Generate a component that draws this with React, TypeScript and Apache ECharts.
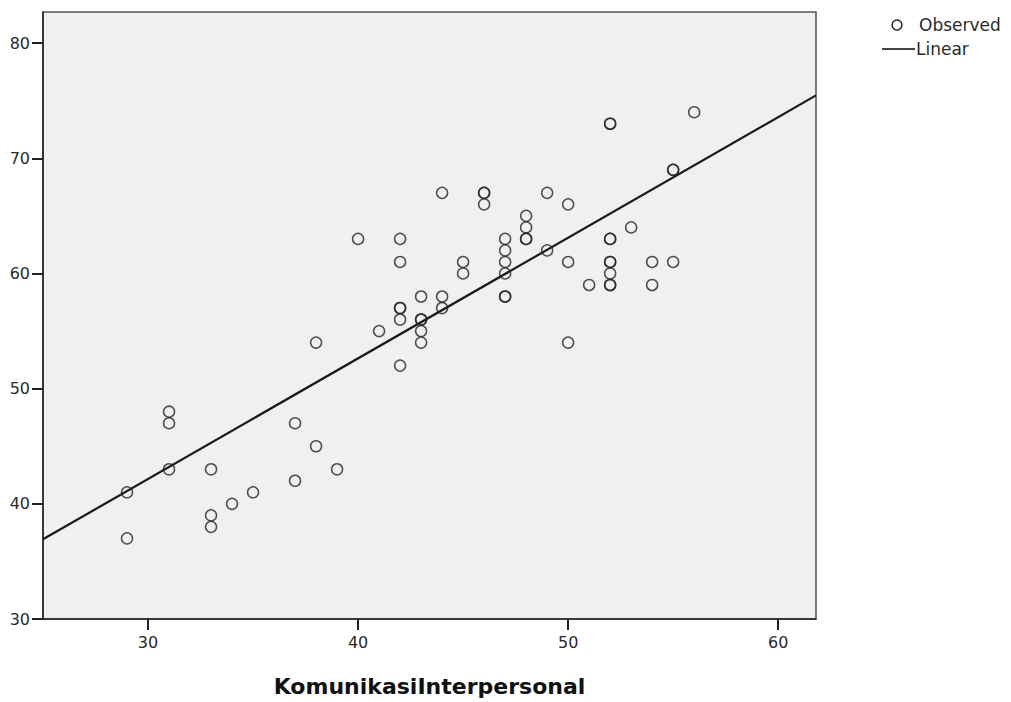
import React, { useEffect, useRef } from "react";
import * as echarts from "echarts";

const xTicks = [30, 40, 50, 60];
const yTicks = [30, 40, 50, 60, 70, 80];

const observedX = [
  29, 29,
  31, 31, 31,
  33, 33, 33,
  34, 35,
  37, 37,
  38, 38,
  39, 40, 41,
  42, 42, 42, 42, 42, 42,
  43, 43, 43, 43, 43,
  44, 44, 44,
  45, 45,
  46, 46, 46,
  47, 47, 47, 47, 47, 47,
  48, 48, 48, 48,
  49, 49,
  50, 50, 50,
  51,
  52, 52, 52, 52, 52, 52, 52, 52, 52,
  53,
  54, 54,
  55, 55, 55,
  56,
];
const observedY = [
  41, 37,
  48, 47, 43,
  43, 39, 38,
  40, 41,
  47, 42,
  54, 45,
  43, 63, 55,
  63, 61, 57, 57, 56, 52,
  58, 56, 56, 55, 54,
  67, 58, 57,
  61, 60,
  67, 67, 66,
  63, 62, 61, 60, 58, 58,
  65, 64, 63, 63,
  67, 62,
  66, 61, 54,
  59,
  73, 73, 63, 63, 61, 61, 60, 59, 59,
  64,
  61, 59,
  69, 69, 61,
  74,
];

const linearX = [25, 61.8];
const linearY = [36.92, 75.46];

export default function App() {
  const ref = useRef<HTMLDivElement>(null);
  useEffect(() => {
    if (!ref.current) return;
    const chart = echarts.init(ref.current, null, { renderer: "svg" });
    const font = "'DejaVu Sans', Verdana, sans-serif";
    chart.setOption({
      animation: false,
      grid: {
        left: 43,
        top: 12,
        right: 195,
        bottom: 83,
        outerBoundsMode: "none",
        containLabel: false,
        show: true,
        backgroundColor: "#f0f0f0",
        borderColor: "#555",
        borderWidth: 1.5,
      },
      xAxis: {
        type: "value",
        min: 25,
        max: 61.8,
        name: "KomunikasiInterpersonal",
        nameLocation: "middle",
        nameGap: 56,
        nameTextStyle: { fontFamily: font, fontSize: 22, fontWeight: "bold", color: "#111" },
        splitLine: { show: false },
        axisLine: { show: true, onZero: false, lineStyle: { color: "#222", width: 1.5 } },
        axisTick: { show: true, customValues: xTicks, length: 11, lineStyle: { color: "#222", width: 2 } },
        axisLabel: { customValues: xTicks, margin: 15, fontFamily: font, fontSize: 16, color: "#2a2a2a" },
      },
      yAxis: {
        type: "value",
        min: 30,
        max: 82.7,
        splitLine: { show: false },
        axisLine: { show: true, onZero: false, lineStyle: { color: "#222", width: 1.5 } },
        axisTick: { show: true, customValues: yTicks, length: 11, lineStyle: { color: "#222", width: 2 } },
        axisLabel: { customValues: yTicks, margin: 13, fontFamily: font, fontSize: 16, color: "#2a2a2a" },
      },
      series: [
        {
          name: "Linear",
          type: "line",
          data: linearX.map((x, i) => [x, linearY[i]]),
          showSymbol: false,
          lineStyle: { color: "#1a1a1a", width: 2.2 },
          z: 3,
        },
        {
          name: "Observed",
          type: "scatter",
          data: observedX.map((x, i) => [x, observedY[i]]),
          symbol: "circle",
          symbolSize: 11,
          itemStyle: { color: "rgba(0,0,0,0)", borderColor: "#262626", borderWidth: 1.5 },
          z: 4,
        },
      ],
      graphic: [
        {
          type: "circle",
          shape: { cx: 897, cy: 25, r: 5 },
          style: { fill: "none", stroke: "#262626", lineWidth: 1.5 },
        },
        {
          type: "text",
          x: 919,
          y: 25,
          style: { text: "Observed", fontFamily: font, fontSize: 17, fill: "#2a2a2a", verticalAlign: "middle" },
        },
        {
          type: "line",
          shape: { x1: 882, y1: 49, x2: 915, y2: 49 },
          style: { stroke: "#444", lineWidth: 2.2 },
        },
        {
          type: "text",
          x: 916,
          y: 49,
          style: { text: "Linear", fontFamily: font, fontSize: 17, fill: "#2a2a2a", verticalAlign: "middle" },
        },
      ],
    });
    return () => chart.dispose();
  }, []);
  return (
    <div
      ref={ref}
      style={{ position: "fixed", left: 0, top: 0, width: 1011, height: 702, background: "#fff" }}
    />
  );
}
